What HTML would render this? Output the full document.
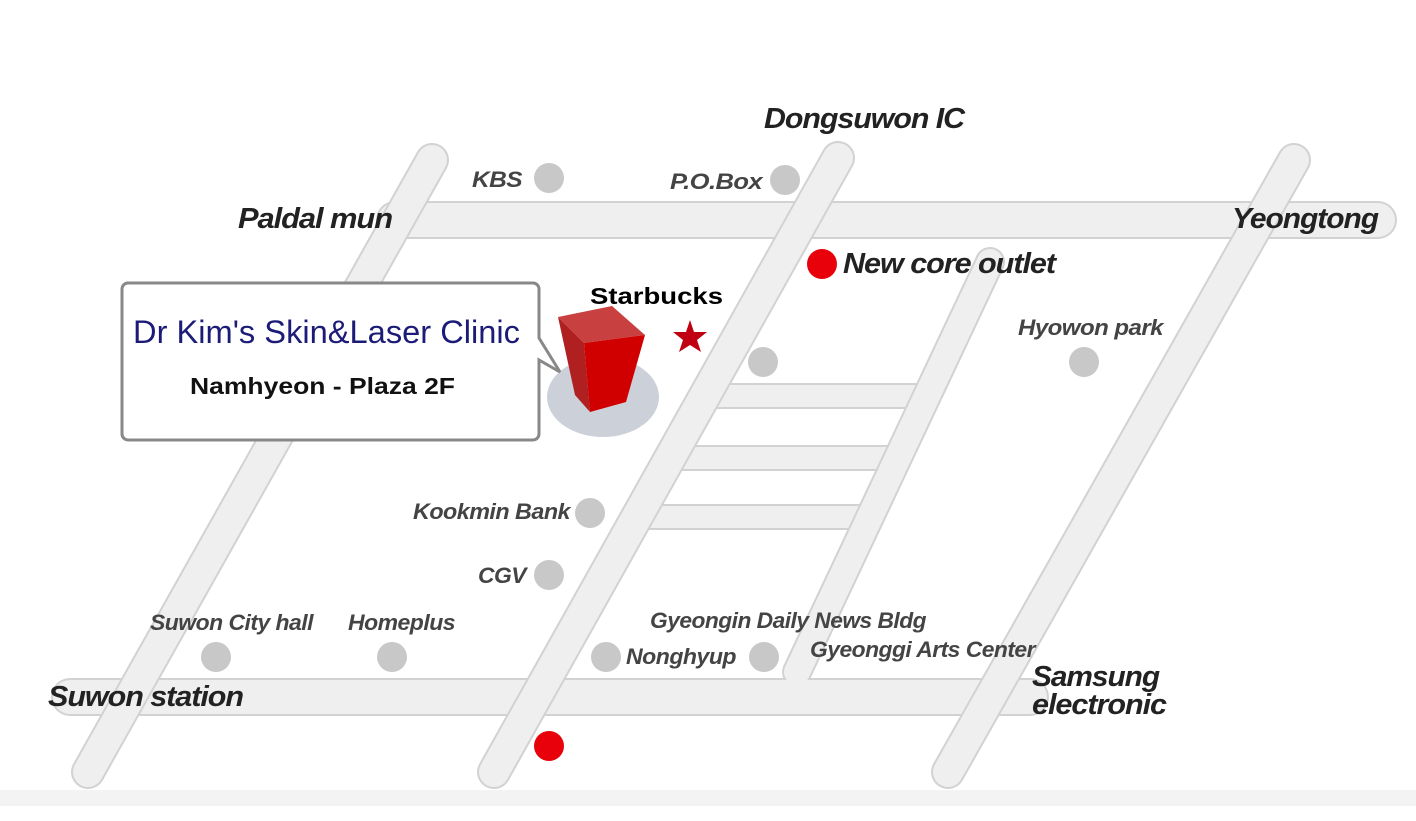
<!DOCTYPE html>
<html><head><meta charset="utf-8"><style>
html,body{margin:0;padding:0;background:#fff;}
svg text{font-family:"Liberation Sans",sans-serif;}
.l{font-weight:bold;font-style:italic;fill:#444;font-size:22px;letter-spacing:-0.5px;}
.b{font-weight:bold;font-style:italic;fill:#222;font-size:29px;letter-spacing:-1px;}
</style></head><body>
<svg width="1416" height="816" viewBox="0 0 1416 816" xmlns="http://www.w3.org/2000/svg">
<rect x="0" y="790" width="1416" height="16" fill="#f3f3f3"/>
<g fill="none">
 <g stroke="#d2d2d2" stroke-width="38" stroke-linecap="round">
  <line x1="395" y1="220" x2="1378" y2="220"/>
  <line x1="70" y1="697" x2="1030" y2="697"/>
 </g>
 <g stroke="#d2d2d2" stroke-width="26">
  <line x1="700" y1="396" x2="927" y2="396"/>
  <line x1="665" y1="458" x2="898" y2="458"/>
  <line x1="632" y1="517" x2="870" y2="517"/>
 </g>
 <g stroke="#efefef" stroke-width="22">
  <line x1="700" y1="396" x2="927" y2="396"/>
  <line x1="665" y1="458" x2="898" y2="458"/>
  <line x1="632" y1="517" x2="870" y2="517"/>
 </g>
 <g stroke="#d2d2d2" stroke-width="30" stroke-linecap="round">
  <line x1="990" y1="262" x2="797" y2="672"/>
 </g>
 <g stroke="#efefef" stroke-width="26" stroke-linecap="round">
  <line x1="990" y1="262" x2="797" y2="672"/>
 </g>
 <g stroke="#efefef" stroke-width="34" stroke-linecap="round">
  <line x1="395" y1="220" x2="1378" y2="220"/>
  <line x1="70" y1="697" x2="1030" y2="697"/>
 </g>
 <g stroke="#d2d2d2" stroke-width="34" stroke-linecap="round">
  <line x1="432" y1="160" x2="88" y2="772"/>
  <line x1="838" y1="158" x2="494" y2="772"/>
  <line x1="1294" y1="160" x2="948" y2="772"/>
 </g>
 <g stroke="#efefef" stroke-width="30" stroke-linecap="round">
  <line x1="432" y1="160" x2="88" y2="772"/>
  <line x1="838" y1="158" x2="494" y2="772"/>
  <line x1="1294" y1="160" x2="948" y2="772"/>
 </g>
</g>
<g fill="#c8c8c8">
 <circle cx="549" cy="178" r="15"/><circle cx="785" cy="180" r="15"/>
 <circle cx="763" cy="362" r="15"/><circle cx="1084" cy="362" r="15"/>
 <circle cx="590" cy="513" r="15"/><circle cx="549" cy="575" r="15"/>
 <circle cx="216" cy="657" r="15"/><circle cx="392" cy="657" r="15"/>
 <circle cx="606" cy="657" r="15"/><circle cx="764" cy="657" r="15"/>
</g>
<circle cx="822" cy="264" r="15" fill="#e8000a"/>
<circle cx="549" cy="746" r="15" fill="#e8000a"/>
<ellipse cx="603" cy="397" rx="56" ry="40" fill="#ccd0d8"/>
<polygon points="558,317 612,306 645,335 584,343" fill="#c84040"/>
<polygon points="558,317 584,343 590,412 575,395" fill="#b02020"/>
<polygon points="584,343 645,335 626,402 590,412" fill="#d00000"/>
<polygon points="690,320 694,332 707,332 697,340 701,352 690,345 679,352 683,340 673,332 686,332" fill="#c00010"/>
<path d="M128 283 H533 a6 6 0 0 1 6 6 V338 L560 372 L539 360 V434 a6 6 0 0 1 -6 6 H128 a6 6 0 0 1 -6 -6 V289 a6 6 0 0 1 6 -6 Z" fill="#fff" stroke="#888" stroke-width="3"/>
<text x="133" y="343" font-size="32" fill="#1c1c78" textLength="387" lengthAdjust="spacingAndGlyphs">Dr Kim's Skin&amp;Laser Clinic</text>
<text x="190" y="394" font-size="23" font-weight="bold" fill="#111" textLength="265" lengthAdjust="spacingAndGlyphs">Namhyeon - Plaza 2F</text>
<text x="590" y="304" font-size="23" font-weight="bold" fill="#000" textLength="133" lengthAdjust="spacingAndGlyphs">Starbucks</text>
<text class="b" x="764" y="128" textLength="200" lengthAdjust="spacingAndGlyphs">Dongsuwon IC</text>
<text class="b" x="238" y="228" textLength="154" lengthAdjust="spacingAndGlyphs">Paldal mun</text>
<text class="b" x="1232" y="228" textLength="146" lengthAdjust="spacingAndGlyphs">Yeongtong</text>
<text class="b" x="843" y="273" textLength="212" lengthAdjust="spacingAndGlyphs">New core outlet</text>
<text class="b" x="48" y="706" textLength="195" lengthAdjust="spacingAndGlyphs">Suwon station</text>
<text class="b" x="1032" y="686" textLength="127" lengthAdjust="spacingAndGlyphs">Samsung</text>
<text class="b" x="1032" y="714" textLength="134" lengthAdjust="spacingAndGlyphs">electronic</text>
<text class="l" x="472" y="187" textLength="50" lengthAdjust="spacingAndGlyphs">KBS</text>
<text class="l" x="670" y="189" textLength="92" lengthAdjust="spacingAndGlyphs">P.O.Box</text>
<text class="l" x="1018" y="335" textLength="145" lengthAdjust="spacingAndGlyphs">Hyowon park</text>
<text class="l" x="413" y="519" textLength="157" lengthAdjust="spacingAndGlyphs">Kookmin Bank</text>
<text class="l" x="478" y="583" textLength="48" lengthAdjust="spacingAndGlyphs">CGV</text>
<text class="l" x="150" y="630" textLength="163" lengthAdjust="spacingAndGlyphs">Suwon City hall</text>
<text class="l" x="348" y="630" textLength="107" lengthAdjust="spacingAndGlyphs">Homeplus</text>
<text class="l" x="650" y="628" textLength="276" lengthAdjust="spacingAndGlyphs">Gyeongin Daily News Bldg</text>
<text class="l" x="626" y="664" textLength="110" lengthAdjust="spacingAndGlyphs">Nonghyup</text>
<text class="l" x="810" y="657" textLength="225" lengthAdjust="spacingAndGlyphs">Gyeonggi Arts Center</text>
</svg>
</body></html>
